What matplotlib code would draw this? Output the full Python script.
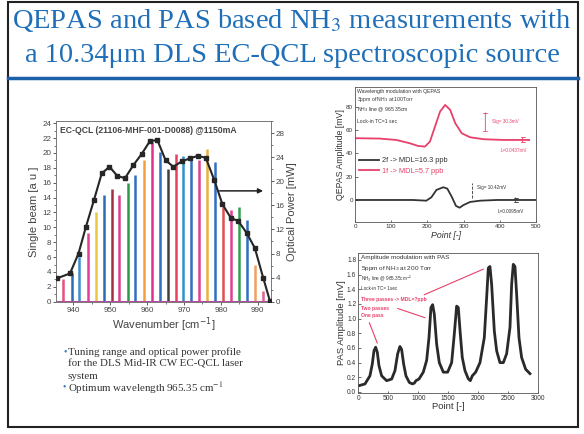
import matplotlib
matplotlib.use("Agg")
import matplotlib.pyplot as plt
from matplotlib.patches import Rectangle
from matplotlib.lines import Line2D
from matplotlib.ticker import AutoMinorLocator

plt.rcParams['font.family'] = ['Liberation Sans', 'DejaVu Sans']

# EC-QCL single beam peaks (left axis)
peak_wn = [937.3, 939.6, 941.5, 943.9, 946.1, 948.3, 950.4, 952.5, 954.7, 956.7,
           959.2, 961.2, 963.5, 965.6, 967.8, 969.8, 972.0, 974.1, 976.2, 978.4,
           980.7, 982.7, 984.9, 987.0, 989.2, 991.3]
peak_height = [3.1, 3.8, 6.0, 9.3, 12.1, 14.3, 15.2, 14.3, 15.9, 17.1,
               19.0, 21.5, 20.1, 17.8, 19.9, 19.6, 19.0, 19.0, 20.6, 18.8,
               12.8, 12.3, 12.8, 11.0, 4.9, 1.5]
peak_colors = ['#e8507a', '#2a6db5', '#3a8fd0', '#e0409a', '#e8c840', '#2a6db5',
               '#a03040', '#d84090', '#2a9a4a', '#3070c0', '#f0a040', '#e03090',
               '#3070c0', '#404040', '#e84060', '#3090d0', '#3070c0', '#e04090',
               '#e8b040', '#3070c0', '#e05050', '#e04090', '#30a050', '#3070c0',
               '#f0a060', '#e06090']

# optical power profile (right axis)
power_wn = [935.7, 939.1, 941.4, 943.4, 945.6, 947.7, 949.8, 951.9, 954.0, 956.3,
            958.5, 960.8, 962.8, 965.0, 967.1, 969.4, 971.6, 973.7, 975.9, 978.2,
            980.4, 982.7, 984.7, 987.0, 989.2, 991.5, 993.3]
power_mw = [3.9, 4.7, 8.0, 12.4, 16.9, 21.3, 22.4, 20.9, 20.5, 22.7,
            24.5, 26.7, 26.8, 23.5, 22.4, 23.3, 23.8, 24.2, 23.9, 20.2,
            16.2, 13.9, 13.4, 11.4, 8.9, 3.9, 0.1]

# QEPAS wavelength modulation
qepas_pt_1f = [0, 67, 114, 151, 174, 193, 207, 221, 235, 249, 263, 277, 295, 318, 356, 412, 481]
qepas_1f = [52.9, 52.6, 51.4, 48.6, 46.3, 45.7, 50.0, 62.9, 75.7, 81.4, 77.1, 65.7, 57.1, 53.7, 52.0, 51.4, 51.4]
qepas_pt_2f = [0, 160, 197, 211, 225, 244, 255, 267, 279, 289, 300, 318, 346, 393, 500]
qepas_2f = [0, 0, -0.6, 2.3, 8.6, 10.9, 9.7, 2.9, -5.1, -6.6, -4.3, -1.7, -0.6, 0, 0]

# PAS amplitude modulation
pas_pt = [11, 111, 194, 233, 261, 289, 317, 344, 389, 472, 556, 611, 656, 694, 722,
          756, 794, 850, 900, 933, 961, 1011, 1083, 1139, 1178, 1211, 1239, 1267, 1306,
          1350, 1417, 1489, 1556, 1600, 1639, 1667, 1700, 1733, 1778, 1833, 1867, 1900,
          1956, 2028, 2100, 2145, 2167, 2194, 2222, 2267, 2306, 2361, 2417, 2472, 2528,
          2556, 2583, 2611, 2639, 2678, 2722, 2789, 2861]
pas_amp = [0.086, 0.109, 0.22, 0.38, 0.56, 0.61, 0.54, 0.36, 0.22, 0.154, 0.176, 0.29,
           0.52, 0.62, 0.58, 0.38, 0.22, 0.13, 0.11, 0.12, 0.154, 0.176, 0.27, 0.43,
           0.74, 1.15, 1.19, 1.06, 0.65, 0.40, 0.27, 0.27, 0.40, 0.79, 1.17, 1.15, 0.79,
           0.47, 0.29, 0.18, 0.154, 0.22, 0.27, 0.40, 0.74, 1.37, 1.69, 1.71, 1.47, 0.83,
           0.56, 0.40, 0.40, 0.52, 0.88, 1.47, 1.74, 1.71, 1.33, 0.74, 0.47, 0.31, 0.25]

W, H = 584, 434
red = '#e8406a'
blue_title = '#1f6fb8'

fig = plt.figure(figsize=(5.84, 4.34), dpi=100)

def fx(x):
    return x / W

def fy(y):
    return 1 - y / H

# slide frame + title
fig.add_artist(Rectangle((fx(8), fy(427)), fx(570), (425) / H, transform=fig.transFigure,
                         fill=False, lw=1.5, ec='#222'))
fig.add_artist(Line2D([fx(8), fx(578)], [fy(78), fy(78)], color='#1d5fa8', lw=2.5))
fig.text(0.5, fy(20), 'QEPAS and PAS based NH$_3$ measurements with', ha='center', va='center',
         fontsize=20.5, family='Liberation Serif', color=blue_title, math_fontfamily='stix')
fig.text(0.5, fy(56), 'a 10.34\u03bcm DLS EC-QCL spectroscopic source', ha='center', va='center',
         fontsize=20.5, family='Liberation Serif', color=blue_title)

# left chart
ax1 = fig.add_axes([fx(56), fy(301.7), 214.7 / W, 180.7 / H])
ax1.vlines(peak_wn, 0, peak_height, colors=peak_colors, lw=1.8)
ax1.axhline(0, color='#b84aa0', lw=2.2)
ax1.set_xlim(935.3, 993.5)
ax1.set_ylim(0, 24.3)
ax1.set_yticks(range(0, 25, 2))
ax1.set_xticks(range(940, 991, 10))
ax1.yaxis.set_minor_locator(AutoMinorLocator(2))
ax1.xaxis.set_minor_locator(AutoMinorLocator(2))
ax1.tick_params(labelsize=5.8, length=2, width=0.6, colors='#444', pad=1.5)
ax1.tick_params(which='minor', length=1.2, width=0.5, colors='#444')
ax1.set_ylabel('Single beam [a u ]', fontsize=8, color='#444', labelpad=2)
ax1.set_xlabel('Wavenumber [cm$^{-1}$]', fontsize=8, color='#444', labelpad=1)
ax1.text(0.02, 0.975, 'EC-QCL (21106-MHF-001-D0088) @1150mA', transform=ax1.transAxes,
         fontsize=6.2, fontweight='bold', color='#444', va='top')
for s in ax1.spines.values():
    s.set_color('#777')
    s.set_linewidth(0.7)

ax2 = ax1.twinx()
ax2.plot(power_wn, power_mw, '-s', color='#262626', ms=2.2, lw=1.5)
ax2.set_ylim(0, 30)
ax2.set_yticks(range(0, 29, 4))
ax2.yaxis.set_minor_locator(AutoMinorLocator(2))
ax2.tick_params(labelsize=5.8, length=2, width=0.6, colors='#444', pad=1.5)
ax2.tick_params(which='minor', length=1.2, width=0.5, colors='#444')
ax2.set_ylabel('Optical Power [mW]', fontsize=8, color='#444', labelpad=2)
ax2.annotate('', xy=(992.2, 18.4), xytext=(978.9, 18.4),
             arrowprops=dict(arrowstyle='-|>', color='#222', lw=1.1, mutation_scale=7))
for s in ax2.spines.values():
    s.set_visible(False)

# notes under left chart
notes = [('\u2022', 'Tuning range and optical power profile', 351.7),
         ('', 'for the DLS Mid-IR CW EC-QCL laser', 363.8),
         ('', 'system', 376.2),
         ('\u2022 ', 'Optimum wavelength 965.35 cm$^{-1}$', 388)]
for bullet, line, y in notes:
    if bullet:
        fig.text(fx(63), fy(y), bullet, fontsize=7, color='#3a7cc0', va='center',
                 family='Liberation Serif')
    fig.text(fx(67.5), fy(y), line, fontsize=7.9, color='#333', va='center',
             family='Liberation Serif', math_fontfamily='stix')

# top right: QEPAS
ax3 = fig.add_axes([fx(355), fy(221.7), 181 / W, 135 / H])
ax3.plot(qepas_pt_2f, qepas_2f, color='#333', lw=1.3, label='2f -> MDL=16.3 ppb')
ax3.plot(qepas_pt_1f, qepas_1f, color=red, lw=1.3, label='1f -> MDL=5.7 ppb')
ax3.set_xlim(0, 500)
ax3.set_ylim(-18.6, 97)
ax3.set_yticks([0, 20, 40, 60, 80])
ax3.set_xticks(range(0, 501, 100))
ax3.tick_params(labelsize=4.5, length=1.8, width=0.5, direction='in', pad=1.5, colors='#333')
ax3.set_ylabel('QEPAS Amplitude [mV]', fontsize=6.3, color='#333', labelpad=1)
ax3.set_xlabel('Point [-]', fontsize=6.3, color='#333', labelpad=1.5, style='italic')
ax3.legend(loc='upper left', bbox_to_anchor=(0.0, 0.51), frameon=False, fontsize=5.3,
           labelcolor=['#333', red], handlelength=2.6, borderaxespad=0.2,
           labelspacing=0.4, handletextpad=0.5)
for txt, yv in [('Wavelength modulation with QEPAS', 92.9), ('3ppm of NH$_3$ at 100Torr', 85.7),
                ('NH$_3$ line @ 965.35cm', 77.1), ('Lock-in TC=1 sec', 67.1)]:
    ax3.text(6, yv, txt, fontsize=3.7, va='center', color='#333')
ax3.annotate('', xy=(360, 57), xytext=(360, 77),
             arrowprops=dict(arrowstyle='|-|', color=red, lw=0.6, mutation_scale=1.5))
ax3.text(379, 67, 'Sig= 30.3mV', fontsize=3.3, color=red, va='center')
ax3.annotate('', xy=(463, 47), xytext=(463, 56),
             arrowprops=dict(arrowstyle='|-|', color=red, lw=0.6, mutation_scale=1.5))
ax3.text(402, 42, 'L=0.0437mV', fontsize=3.3, color=red, va='center')
ax3.plot([323, 323], [1.4, 14.3], ls='--', color='#333', lw=0.6)
ax3.text(337, 10.9, 'Sig= 10.42mV', fontsize=3.3, color='#333', va='center')
ax3.annotate('', xy=(444, -4.3), xytext=(444, 4.3),
             arrowprops=dict(arrowstyle='|-|', color='#333', lw=0.6, mutation_scale=1.5))
ax3.text(393, -10, 'L=0.0095mV', fontsize=3.3, color='#333', va='center')
for s in ax3.spines.values():
    s.set_color('#555')
    s.set_linewidth(0.6)

# bottom right: PAS
ax4 = fig.add_axes([fx(358.3), fy(392.7), 180 / W, 139.4 / H])
ax4.plot(pas_pt, pas_amp, color='#2a2a2a', lw=2)
ax4.set_xlim(0, 3000)
ax4.set_ylim(-0.01, 1.89)
ax4.set_yticks([0.0, 0.2, 0.4, 0.6, 0.8, 1.0, 1.2, 1.4, 1.6, 1.8])
ax4.set_yticklabels(['0.0', '0.2', '0.4', '0.6', '0.8', '1.0', '1.2', '1.4', '1.6', '1.8'])
ax4.set_xticks(range(0, 3001, 500))
ax4.tick_params(labelsize=4.8, length=1.8, width=0.5, direction='in', pad=1.5, colors='#333')
ax4.set_ylabel('PAS Amplitude [mV]', fontsize=6.8, color='#333', labelpad=1)
ax4.set_xlabel('Point [-]', fontsize=6.8, color='#333', labelpad=0.5)
for txt, yv, fs in [('Amplitude modulation with PAS', 1.83, 4.6), ('5ppm of NH$_3$ at 200 Torr', 1.68, 4.6),
                    ('NH$_3$ line @ 965.35cm$^{-1}$', 1.54, 3.3), ('Lock-in TC= 1sec', 1.41, 3.3)]:
    ax4.text(45, yv, txt, fontsize=fs, va='center', color='#333')
for txt, yv in [('Three passes -> MDL=?ppb', 1.26), ('Two passes', 1.14), ('One pass', 1.04)]:
    ax4.text(45, yv, txt, fontsize=3.6, va='center', color=red, fontweight='bold')
for start, end in [((1056, 1.31), (2128, 1.69)), ((612, 1.15), (1156, 1.0)), ((167, 0.98), (333, 0.63))]:
    ax4.annotate('', xy=end, xytext=start,
                 arrowprops=dict(arrowstyle='-', color=red, lw=0.8))
for s in ax4.spines.values():
    s.set_color('#555')
    s.set_linewidth(0.6)

fig.savefig('out.png', dpi=100)
